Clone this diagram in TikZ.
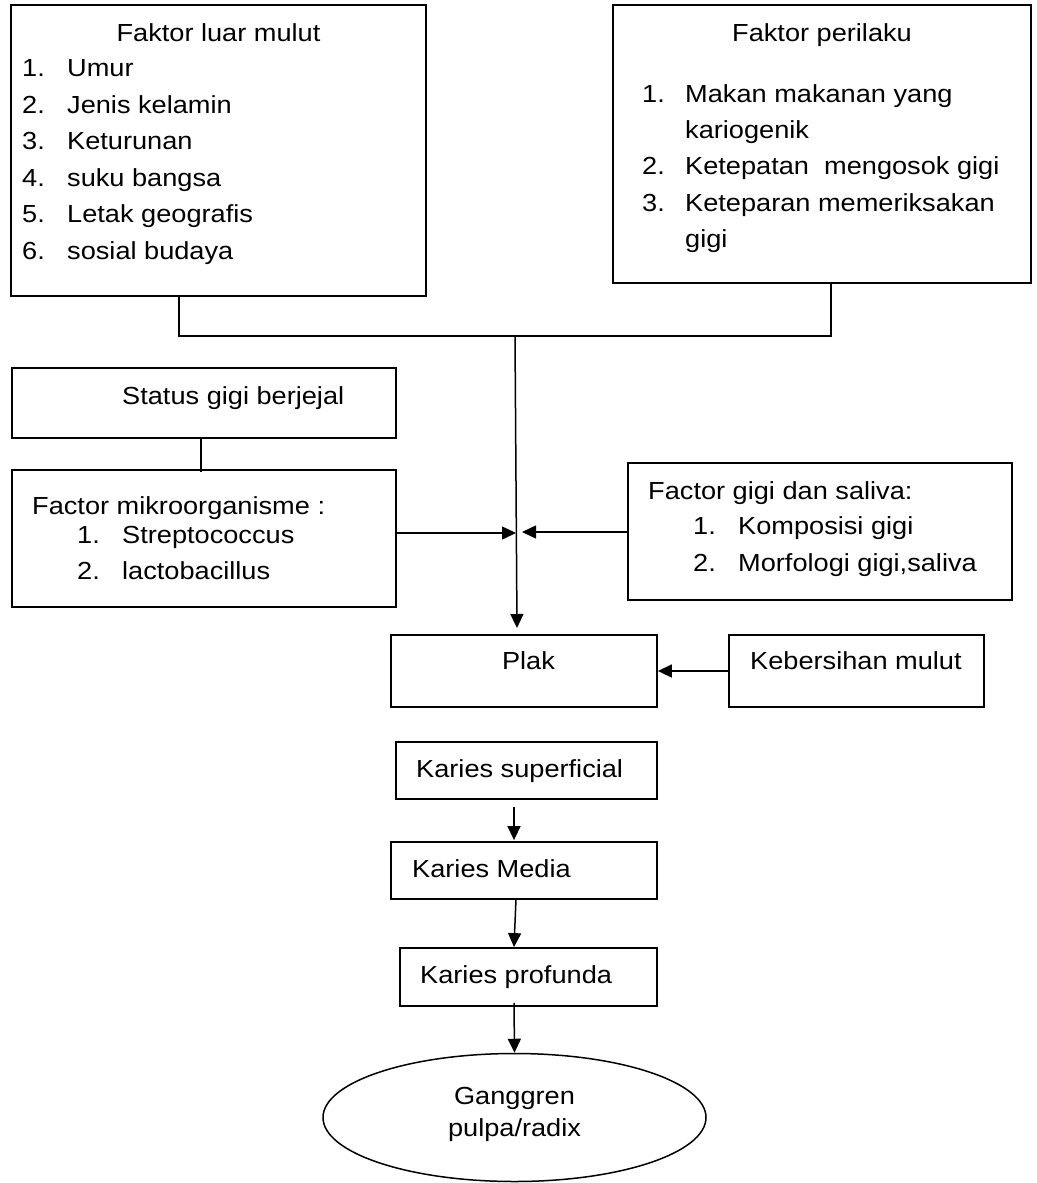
\documentclass[tikz,border=0pt]{standalone}
\usepackage{fontspec}
\setmainfont[FakeStretch=1.1]{Liberation Sans}
\usetikzlibrary{arrows.meta,shapes.geometric,calc}
\newcommand{\dfont}{\fontsize{24.7}{30}\selectfont}
\begin{document}
\begin{tikzpicture}[x=1pt,y=-1pt,
  box/.style={draw, line width=1.8pt, inner sep=0pt, rectangle},
  txt/.style={anchor=base west, inner sep=0pt, font=\dfont},
  ctxt/.style={anchor=base, inner sep=0pt, font=\dfont},
  conn/.style={line width=1.5pt},
  arr/.style={line width=1.5pt, -{Triangle[length=14pt,width=13pt]}}]
\useasboundingbox (0,0) rectangle (1036,1183);
% boxes
\node[box, minimum width=415pt, minimum height=291pt] (luar) at (218.5,150.5) {};
\node[box, minimum width=418pt, minimum height=278pt] (perilaku) at (822,144) {};
\node[box, minimum width=384pt, minimum height=70pt] (status) at (204,403) {};
\node[box, minimum width=384pt, minimum height=137pt] (mikro) at (204,538.5) {};
\node[box, minimum width=384pt, minimum height=137pt] (gigi) at (820,531.5) {};
\node[box, minimum width=266pt, minimum height=72pt] (plak) at (524,671) {};
\node[box, minimum width=255pt, minimum height=72pt] (bersih) at (856.5,671) {};
\node[box, minimum width=261pt, minimum height=57pt] (ks) at (526.5,770.5) {};
\node[box, minimum width=266pt, minimum height=57pt] (km) at (524,870.5) {};
\node[box, minimum width=257pt, minimum height=58pt] (kp) at (528.5,977) {};
\node[draw, line width=1.5pt, ellipse, minimum width=383pt, minimum height=128pt, inner sep=0pt] (gang) at (514.5,1117.5) {};
% texts
\node[ctxt] (t1) at (218.5,41) {Faktor luar mulut};
\foreach \n/\s [count=\i from 0] in {1./Umur,2./Jenis kelamin,3./Keturunan,4./suku bangsa,5./Letak geografis,6./sosial budaya}{
  \node[txt] (l\i n) at (22,76.5+36.6*\i) {\n};
  \node[txt] (l\i t) at (67,76.5+36.6*\i) {\s};
}
\node[ctxt] (t2) at (822,41) {Faktor perilaku};
\node[txt] (p1n) at (642,102) {1.};
\node[txt] (p1t) at (685,102) {Makan makanan yang};
\node[txt] (p1u) at (685,138.4) {kariogenik};
\node[txt] (p2n) at (642,174.8) {2.};
\node[txt] (p2t) at (685,174.8) {Ketepatan\ \ mengosok gigi};
\node[txt] (p3n) at (642,211.2) {3.};
\node[txt] (p3t) at (685,211.2) {Keteparan memeriksakan};
\node[txt] (p3u) at (685,247.6) {gigi};
\node[txt] (st) at (122,404) {Status gigi berjejal};
\node[txt] (m0) at (32,514) {Factor mikroorganisme :};
\node[txt] (m1n) at (77,543) {1.};
\node[txt] (m1t) at (122,543) {Streptococcus};
\node[txt] (m2n) at (77,579) {2.};
\node[txt] (m2t) at (122,579) {lactobacillus};
\node[txt] (g0) at (648,499) {Factor gigi dan saliva:};
\node[txt] (g1n) at (693,534) {1.};
\node[txt] (g1t) at (738,534) {Komposisi gigi};
\node[txt] (g2n) at (693,571) {2.};
\node[txt] (g2t) at (738,571) {Morfologi gigi,saliva};
\node[ctxt] (pt) at (528.5,669) {Plak};
\node[txt] (bt) at (750,669) {Kebersihan mulut};
\node[txt] (kst) at (416,777) {Karies superficial};
\node[txt] (kmt) at (412,877) {Karies Media};
\node[txt] (kpt) at (420,983) {Karies profunda};
\node[ctxt] (gt1) at (514.5,1104) {Ganggren};
\node[ctxt] (gt2) at (514.5,1136) {pulpa/radix};
% junction coordinates
\coordinate (jl) at (179,336);
\coordinate (jr) at (831,336);
\coordinate (jm) at (515,336);
\coordinate (jp) at (517,628);
\coordinate (jx) at (516,533);
\coordinate (jy) at (522,532);
\coordinate (js) at (201,472);
% connectors
\draw[conn] (luar.south -| jl) -- (jl) -- (jr) -- (perilaku.south -| jr);
\draw[arr] (jm) -- (jp);
\draw[conn] (status.south -| js) -- (js);
\draw[arr] (mikro.east |- jx) -- (jx);
\draw[arr] (gigi.west |- jy) -- (jy);
\draw[arr] (bersih.west) -- (plak.east);
\draw[arr] ($(ks.south)+(-12.5,7)$) -- ($(km.north)+(-10,-1)$);
\draw[arr] ($(km.south)+(-8,-1)$) -- ($(kp.north)+(-14.5,0)$);
\draw[arr] ($(kp.south)+(-14.5,-4)$) -- (gang.north);
\end{tikzpicture}
\end{document}
